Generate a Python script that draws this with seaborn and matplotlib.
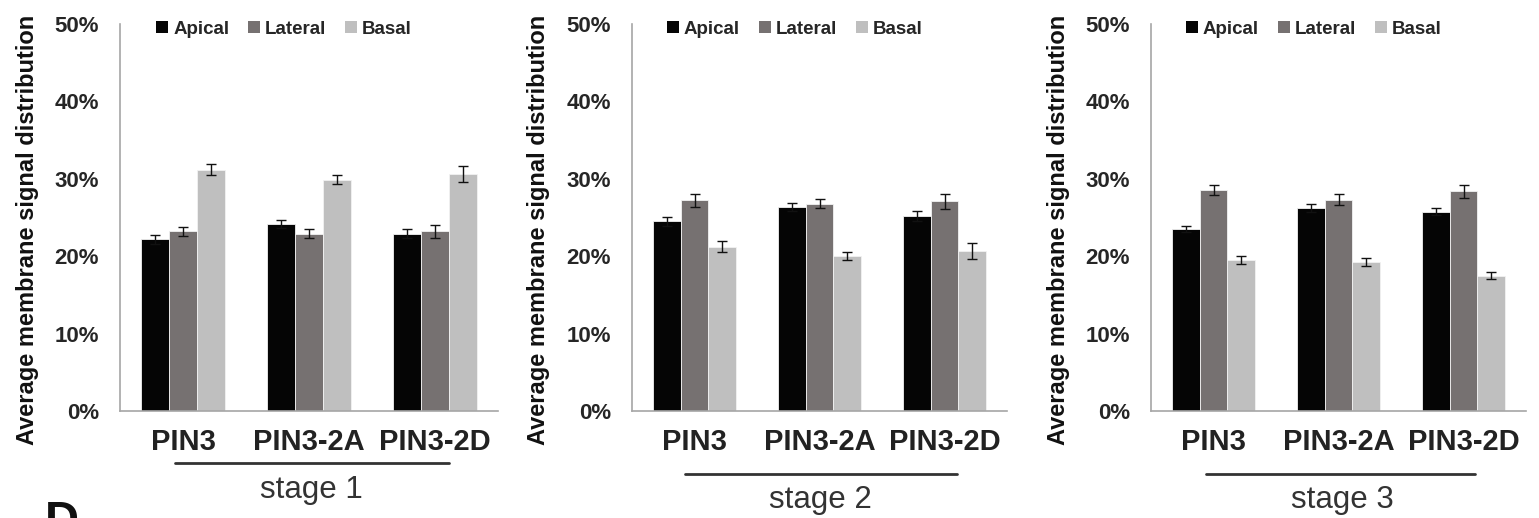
import matplotlib
matplotlib.use("Agg")
import matplotlib.pyplot as plt
from matplotlib.lines import Line2D
from matplotlib.ticker import FixedLocator, FuncFormatter
import numpy as np
import pandas as pd
import seaborn as sns

# ---- data (percent of membrane signal) ----
constructs = ["PIN3", "PIN3-2A", "PIN3-2D"]
sides = ["Apical", "Lateral", "Basal"]
stages = ["stage 1", "stage 2", "stage 3"]

stage1_apical = [22.2, 24.2, 22.9]
stage1_lateral = [23.2, 22.9, 23.2]
stage1_basal = [31.2, 29.9, 30.6]
stage1_apical_err = [0.6, 0.5, 0.6]
stage1_lateral_err = [0.6, 0.55, 0.8]
stage1_basal_err = [0.7, 0.55, 1.0]

stage2_apical = [24.5, 26.4, 25.2]
stage2_lateral = [27.2, 26.8, 27.1]
stage2_basal = [21.2, 20.0, 20.7]
stage2_apical_err = [0.6, 0.5, 0.6]
stage2_lateral_err = [0.8, 0.6, 0.95]
stage2_basal_err = [0.7, 0.5, 1.0]

stage3_apical = [23.5, 26.2, 25.75]
stage3_lateral = [28.55, 27.3, 28.4]
stage3_basal = [19.5, 19.25, 17.45]
stage3_apical_err = [0.4, 0.5, 0.45]
stage3_lateral_err = [0.6, 0.7, 0.85]
stage3_basal_err = [0.5, 0.5, 0.45]

y_ticks = [0, 10, 20, 30, 40, 50]

panels = [
    (stage1_apical, stage1_lateral, stage1_basal,
     stage1_apical_err, stage1_lateral_err, stage1_basal_err),
    (stage2_apical, stage2_lateral, stage2_basal,
     stage2_apical_err, stage2_lateral_err, stage2_basal_err),
    (stage3_apical, stage3_lateral, stage3_basal,
     stage3_apical_err, stage3_lateral_err, stage3_basal_err),
]

palette = {"Apical": "#050505", "Lateral": "#767171", "Basal": "#bfbfbf"}

sns.set_style("white")
plt.rcParams["font.family"] = ["Liberation Sans", "DejaVu Sans"]

W, H = 1539, 518
fig = plt.figure(figsize=(W / 100, H / 100), dpi=100)

# pixel layout of each panel: axes left, axes right, ylabel x, stage bar, stage text
axes_px = [(120, 498), (632, 1007), (1151, 1526)]
axes_top, axes_bottom = 24, 411
ylabel_x = [28, 538, 1058]
stage_line = [(175, 449, 463), (685, 957, 474), (1206, 1475, 474)]
stage_text = [(311, 490), (820, 500), (1342, 500)]

for i, vals in enumerate(panels):
    ap, la, ba, ape, lae, bae = vals
    df = pd.DataFrame({
        "construct": constructs * 3,
        "side": [s for s in sides for _ in constructs],
        "value": list(ap) + list(la) + list(ba),
        "err": list(ape) + list(lae) + list(bae),
    })
    l, r = axes_px[i]
    ax = fig.add_axes([l / W, 1 - axes_bottom / H, (r - l) / W,
                       (axes_bottom - axes_top) / H])
    sns.barplot(data=df, x="construct", y="value", hue="side",
                order=constructs, hue_order=sides, palette=palette,
                errorbar=None, width=0.667, saturation=1,
                edgecolor="#f2f2f2", linewidth=0.6, ax=ax)

    # error bars centred on each bar
    for cont, side in zip(ax.containers, sides):
        sub = df[df["side"] == side].set_index("construct").loc[constructs]
        xs = [p.get_x() + p.get_width() / 2 for p in cont.patches]
        ax.errorbar(xs, sub["value"].values, yerr=sub["err"].values,
                    fmt="none", ecolor="#111111", elinewidth=1.0,
                    capsize=3.5, capthick=1.0, zorder=5)

    ax.set_xlim(-0.5, 2.5)
    ax.set_ylim(0, 50)
    ax.yaxis.set_major_locator(FixedLocator(y_ticks))
    ax.yaxis.set_major_formatter(FuncFormatter(lambda v, _: f"{v:.0f}%"))
    ax.set_xticks([-0.5, 0.5, 1.5, 2.5])
    ax.set_xticklabels([])
    ax.set_xticks(range(len(constructs)), minor=True)
    ax.set_xticklabels(constructs, minor=True, fontsize=21,
                       fontweight="bold", color="#222222")
    ax.tick_params(axis="x", which="major", direction="out", length=6,
                   width=1, color="#a6a6a6")
    ax.tick_params(axis="x", which="minor", length=0, pad=12)
    ax.tick_params(axis="y", direction="out", length=6, width=1,
                   color="#a6a6a6", pad=9, labelsize=16)
    for t in ax.get_yticklabels():
        t.set_fontweight("bold")
    ax.set_xlabel("")
    ax.set_ylabel("")
    for s in ["top", "right"]:
        ax.spines[s].set_visible(False)
    for s in ["left", "bottom"]:
        ax.spines[s].set_color("#a6a6a6")
        ax.spines[s].set_linewidth(1.2)
    ax.grid(False)

    leg = ax.legend(loc="center", bbox_to_anchor=(0.434, 0.987), ncol=3,
                    frameon=False, handlelength=0.65, handleheight=0.65,
                    handletextpad=0.25, columnspacing=1.0,
                    prop={"weight": "bold", "size": 13.5})
    for h in leg.legend_handles:
        h.set_edgecolor("none")

    fig.text(ylabel_x[i] / W, 1 - 230 / H,
             "Average membrane signal distribution", rotation=90,
             ha="center", va="center", fontsize=17, fontweight="bold",
             color="#111111")

    x0, x1, yl = stage_line[i]
    fig.add_artist(Line2D([x0 / W, x1 / W], [1 - yl / H, 1 - yl / H],
                          color="#333333", lw=2))
    tx, ty = stage_text[i]
    fig.text(tx / W, 1 - ty / H, stages[i], ha="center", va="center",
             fontsize=22.5, color="#333333")

fig.text(45 / W, 1 - 500 / H, "D", ha="left", va="top", fontsize=34,
         fontweight="bold", color="#111111")

fig.savefig("out.png", dpi=100)
